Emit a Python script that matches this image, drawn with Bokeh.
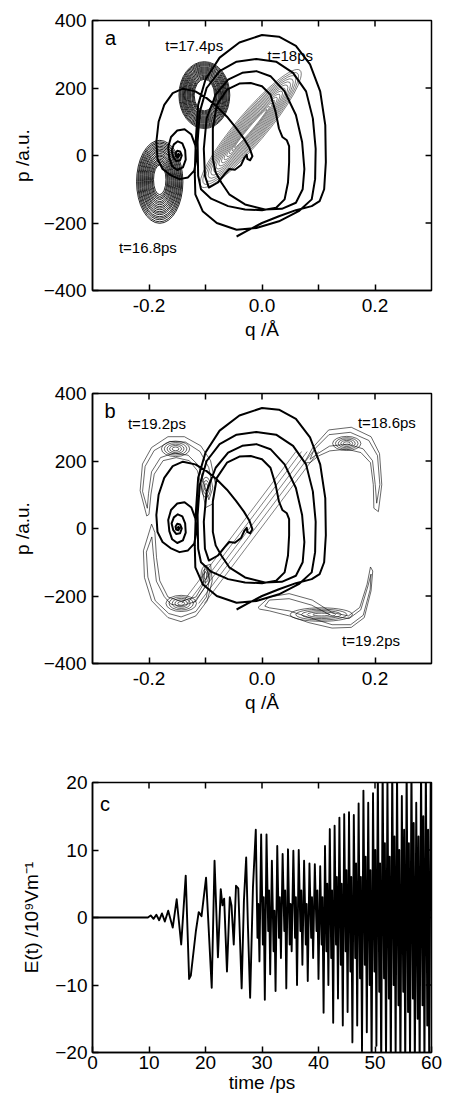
from bokeh.plotting import figure
from bokeh.models import Range1d, FixedTicker, PrintfTickFormatter, Label
from bokeh.layouts import column
from bokeh.embed import file_html
from bokeh.resources import INLINE

FONT = "Liberation Sans"

# ---------------- data ----------------
# classical trajectory (q in Angstrom, p in a.u.)
TRAJ_Q = [-0.150, -0.148, -0.146, -0.148, -0.152, -0.153, -0.150, -0.145, -0.142, -0.145, -0.152, -0.157,
          -0.160, -0.156, -0.149, -0.141, -0.136, -0.135, -0.140, -0.150, -0.159, -0.164,
          -0.166, -0.161, -0.150, -0.137, -0.125, -0.118, -0.116, -0.120, -0.131, -0.146, -0.162, -0.176,
          -0.185, -0.187, -0.183, -0.173, -0.158, -0.140, -0.118, -0.098, -0.080, -0.062, -0.046, -0.032,
          -0.022, -0.017, -0.021, -0.026, -0.027, -0.031, -0.037, -0.048, -0.058, -0.066, -0.078,
          -0.094, -0.101, -0.103, -0.098, -0.082, -0.060, -0.035, -0.010, 0.015, 0.040, 0.060, 0.071,
          0.075, 0.072, 0.060, 0.035, 0.005, -0.030, -0.058, -0.072,
          -0.082, -0.087, -0.087, -0.080, -0.062, -0.040, -0.020, 0.000, 0.015, 0.024, 0.030, 0.036,
          0.044, 0.048, 0.048, 0.046, 0.040, 0.025, 0.000, -0.030, -0.060, -0.090, -0.108,
          -0.113, -0.114, -0.110, -0.098, -0.075, -0.045, -0.010, 0.025, 0.055, 0.078, 0.090, 0.095,
          0.094, 0.088, 0.065, 0.030, -0.010, -0.045, -0.080, -0.105, -0.118,
          -0.119, -0.117, -0.113, -0.100, -0.075, -0.040, 0.000, 0.030, 0.060, 0.085, 0.103, 0.112,
          0.113, 0.110, 0.102, 0.088, 0.060, 0.030, 0.000, -0.025, -0.045]
TRAJ_P = [0, 5, 1, -5, -3, 6, 14, 12, 0, -14, -16, -5,
          15, 33, 42, 36, 15, -12, -35, -43, -32, -8,
          25, 55, 74, 78, 62, 30, -10, -45, -65, -70, -58, -40,
          -10, 40, 100, 150, 185, 198, 190, 170, 145, 115, 82, 50,
          22, -2, -14, -10, 2, -6, -28, -42, -40, -55, -80,
          -95, -60, 20, 110, 180, 225, 245, 250, 235, 190, 120, 40,
          -40, -100, -140, -158, -160, -145, -115, -80,
          -50, -10, 80, 150, 195, 213, 215, 205, 180, 130, 80, 55,
          45, 28, -20, -80, -130, -155, -162, -160, -150, -128, -100,
          -60, 40, 130, 200, 250, 278, 286, 278, 245, 190, 110, 20,
          -70, -130, -165, -195, -215, -220, -200, -165, -115,
          -50, 50, 150, 225, 290, 335, 357, 352, 325, 270, 190, 90,
          -20, -100, -135, -150, -162, -180, -200, -222, -240]

# panel a: wave-packet contour rings (centre q, centre p, width q, height p, angle rad)
# packets at t=16.8 ps and t=17.4 ps
A_RING_Q = [-0.181] * 18 + [-0.102] * 18
A_RING_P = ([-78, -78, -77, -77, -77, -76, -76, -76, -75, -75, -75, -74, -74, -74, -73, -73, -73, -72]
            + [179] * 18)
A_RING_W = ([0.082, 0.078, 0.075, 0.071, 0.068, 0.064, 0.061, 0.057, 0.054, 0.050, 0.047, 0.043, 0.040,
             0.036, 0.033, 0.029, 0.026, 0.022]
            + [0.090, 0.087, 0.084, 0.080, 0.077, 0.074, 0.071, 0.068, 0.065, 0.061, 0.058, 0.055, 0.052,
               0.049, 0.045, 0.042, 0.039, 0.036])
A_RING_H = ([246, 237, 227, 218, 209, 199, 190, 181, 172, 162, 153, 144, 134, 125, 116, 107, 97, 88]
            + [198, 192, 186, 180, 174, 167, 161, 155, 149, 143, 137, 131, 125, 118, 112, 106, 100, 94])
# packet at t=18 ps (tilted)
A3_RING_Q = [-0.020] * 14
A3_RING_P = [80] * 14
A3_RING_W = [0.270, 0.256, 0.242, 0.228, 0.214, 0.200, 0.186, 0.172, 0.158, 0.144, 0.130, 0.116, 0.102, 0.088]
A3_RING_H = [89, 82, 75, 69, 63, 57, 51, 45, 39, 33, 27, 21, 16, 11]
A3_ANGLE = 0.869

# panel b: contours of the four crescent-shaped packets (outer and one nested contour each)
B_CONTOUR_Q = [
    [-0.204, -0.2157, -0.2116, -0.1954, -0.1664, -0.1374, -0.1084, -0.0910, -0.0823, -0.0881, -0.0997,
     -0.1055, -0.1142, -0.1287, -0.1519, -0.1751, -0.1907, -0.1965, -0.200],
    [-0.203, -0.2114, -0.2069, -0.1909, -0.1632, -0.1355, -0.1097, -0.0943, -0.087, -0.094, -0.1023,
     -0.1129, -0.1307, -0.1552, -0.1797, -0.1955, -0.2008],
    [-0.1954, -0.2099, -0.2081, -0.1954, -0.1664, -0.1432, -0.1171, -0.0968, -0.0881, -0.0910,
     -0.1009, -0.1038, -0.1171, -0.1432, -0.1664, -0.1809, -0.1867, -0.1896],
    [-0.195, -0.2047, -0.202, -0.1889, -0.165, -0.1432, -0.1171, -0.0984, -0.093, -0.096, -0.1022,
     -0.1171, -0.1432, -0.1615, -0.1729, -0.187, -0.1919],
    [0.075, 0.090, 0.118, 0.158, 0.193, 0.208, 0.212, 0.206, 0.198, 0.197, 0.192, 0.175, 0.150, 0.120,
     0.100, 0.085],
    [0.085, 0.0923, 0.1185, 0.1562, 0.189, 0.2044, 0.2086, 0.203, 0.2004, 0.1956, 0.179, 0.1518, 0.1195,
     0.0978],
    [-0.007, 0.013, 0.048, 0.089, 0.124, 0.153, 0.173, 0.186, 0.192, 0.196, 0.193, 0.181, 0.158,
     0.124, 0.083, 0.048, 0.013, -0.004],
    [0.005, 0.013, 0.048, 0.0877, 0.124, 0.1541, 0.1748, 0.1876, 0.193, 0.1914, 0.1792, 0.1569, 0.124,
     0.0843, 0.048, 0.013],
]
B_CONTOUR_P = [
    [37, 112, 191, 240, 272, 272, 245, 201, 131, 72, 62, 112, 171, 201, 210, 201, 161, 102, 42],
    [60, 110, 184, 231, 258, 256, 228, 181, 120, 85, 132, 188, 217, 224, 210, 168, 104],
    [13, -66, -145, -214, -264, -276, -259, -214, -155, -106, -111, -165, -203, -216, -203, -155, -86, -12],
    [-25, -70, -144, -214, -252, -262, -246, -203, -150, -125, -176, -216, -230, -224, -202, -156, -82],
    [195, 240, 292, 300, 272, 222, 130, 50, 60, 130, 195, 225, 235, 230, 215, 195],
    [205, 234, 278, 285, 261, 216, 130, 75, 130, 201, 236, 250, 244, 221],
    [-234, -203, -193, -212, -249, -259, -234, -165, -114, -126, -185, -264, -293, -295, -279, -259, -244, -239],
    [-230, -212, -208, -227, -259, -267, -241, -170, -135, -181, -257, -285, -285, -264, -244, -235],
]

# panel b: inner contour lobes (centre q, centre p, width q, height p, angle rad)
B_LOBE_Q = [-0.153] * 5 + [-0.099] * 3 + [-0.143] * 5 + [-0.100] * 3 + [0.150] * 5 + [0.105] * 5
B_LOBE_P = [236] * 5 + [122] * 3 + [-222] * 5 + [-140] * 3 + [252] * 5 + [-255] * 5
B_LOBE_W = ([0.050, 0.040, 0.030, 0.021, 0.012] + [0.016, 0.011, 0.006]
            + [0.054, 0.043, 0.032, 0.022, 0.012] + [0.016, 0.011, 0.006]
            + [0.050, 0.040, 0.030, 0.021, 0.012] + [0.110, 0.090, 0.070, 0.050, 0.030])
B_LOBE_H = ([46, 37, 28, 20, 11] + [60, 40, 22]
            + [48, 39, 30, 21, 11] + [60, 40, 22]
            + [42, 34, 26, 18, 10] + [40, 32, 24, 16, 8])
B_LOBE_ANGLE = [0.0] * 26 + [-0.2] * 5

# panel b: interference fringes (start / end of each stripe)
B_FRINGE_Q0 = [-0.142, -0.132, -0.122, -0.112, -0.102]
B_FRINGE_P0 = [-222, -222, -222, -222, -222]
B_FRINGE_Q1 = [0.060, 0.070, 0.080, 0.090, 0.100]
B_FRINGE_P1 = [228, 228, 228, 228, 228]

# panel c: field E(t), extrema
E_T = [0.0, 9.8, 10.3, 10.8, 11.3, 11.8, 12.3, 12.8, 13.4, 14.2, 14.9, 15.7, 16.5, 17.1, 17.4, 18.3, 18.8,
       19.3, 20.1, 21.1, 21.6, 22.2, 22.7, 23.0, 23.3, 23.8, 24.3, 24.6, 25.0, 25.4, 25.8, 26.4, 26.8,
       27.2, 27.5, 27.9, 28.4,
       28.9, 29.2, 29.35, 29.55, 29.85, 30.15, 30.3, 30.5, 30.8, 31.1, 31.25, 31.45, 31.75, 32.05, 32.2, 32.4,
       32.7, 33.0, 33.15, 33.35, 33.65, 33.95, 34.1, 34.3, 34.6, 34.9, 35.05, 35.25, 35.55, 35.85, 36.0, 36.2,
       36.5, 36.8, 36.95, 37.15, 37.45, 37.75, 37.9, 38.1, 38.4, 38.7, 38.85, 39.05, 39.35, 39.65, 39.8, 40.0,
       40.3, 40.55, 40.7, 40.9, 41.15, 41.4, 41.55, 41.75, 42.0, 42.25, 42.4, 42.6, 42.85, 43.1, 43.25, 43.45,
       43.7, 43.95, 44.1, 44.3, 44.55, 44.8, 44.95, 45.15, 45.4, 45.65, 45.8, 46.0, 46.25, 46.5, 46.65, 46.85,
       47.1, 47.35, 47.5, 47.7, 47.95, 48.2, 48.35, 48.55, 48.8, 49.05, 49.2, 49.4, 49.65, 49.9, 50.05, 50.25,
       50.5, 50.75, 50.9, 51.1, 51.35, 51.6, 51.75, 51.95, 52.2, 52.45, 52.6, 52.8, 53.05, 53.3, 53.45, 53.65,
       53.9, 54.15, 54.3, 54.5, 54.75, 55.0, 55.15, 55.35, 55.6, 55.85, 56.0, 56.2, 56.45, 56.7, 56.85, 57.05,
       57.3, 57.55, 57.7, 57.9, 58.15, 58.4, 58.55, 58.75, 59.0, 59.25, 59.4, 59.6, 59.85, 60.0]
E_V = [0.0, 0.0, 0.3, -0.2, 0.4, -0.4, 0.6, -0.6, 1.0, -1.5, 2.7, -4.0, 6.2, -9.1, -8.6, -2.0, 0.8,
       0.2, 5.9, -10.4, 8.4, -5.9, 4.2, 1.8, 2.8, -8.0, 3.0, 1.8, -4.0, 4.7, 4.3, -10.5, 2.5,
       8.9, -1.0, -11.9, 4.5,
       13.0, -3.0, 2.0, -6.5, 12.3, -4.0, 3.0, -12.2, 12.3, -2.0, 4.0, -8.4, 8.4, -5.0, 1.0, -10.9,
       10.6, -3.0, 3.0, -6.0, 9.4, -2.0, 4.0, -10.5, 10.1, -4.0, 2.0, -5.0, 9.9, -3.0, 3.0, -10.0,
       10.0, -2.0, 4.0, -7.0, 8.4, -4.0, 2.0, -9.4, 8.0, -3.0, 3.0, -6.0, 7.9, -2.0, 4.0, -9.1,
       7.6, -4.0, 3.0, -14.1, 10.6, -5.0, 5.0, -10.0, 13.1, -6.0, 4.0, -15.6, 13.6, -4.0, 6.0, -12.0,
       14.8, -7.0, 5.0, -16.0, 15.3, -5.0, 7.0, -14.0, 15.6, -8.0, 6.0, -18.5, 15.2, -6.0, 8.0, -16.0,
       16.9, -9.0, 6.0, -19.8, 18.8, -7.0, 9.0, -17.0, 17.0, -10.0, 7.0, -22.0, 18.4, -8.0, 10.0, -19.0,
       22.0, -11.0, 8.0, -23.0, 23.0, -9.0, 11.0, -22.0, 21.0, -12.0, 9.0, -23.0, 23.0, -10.0, 12.0, -21.0,
       22.0, -13.0, 10.0, -23.0, 18.0, -11.0, 13.0, -23.0, 23.0, -14.0, 11.0, -22.0, 23.0, -12.0, 14.0, -23.0,
       17.0, -15.0, 12.0, -23.0, 23.0, -13.0, 15.0, -23.0, 23.0, -16.0, 13.0, -23.0, 20.0, 6.0]

Q_TICKS = [-0.2, 0.0, 0.2]
Q_MINOR = [-0.1, 0.1]
P_TICKS = [-400, -200, 0, 200, 400]
T_TICKS = [0, 10, 20, 30, 40, 50, 60]
E_TICKS = [-20, -10, 0, 10, 20]

# annotation texts and their places (data units)
A_NOTES = [("a", -0.268, 347), ("t=17.4ps", -0.120, 326), ("t=18ps", 0.050, 296), ("t=16.8ps", -0.202, -273)]
B_NOTES = [("b", -0.269, 349), ("t=19.2ps", -0.186, 310), ("t=18.6ps", 0.221, 313), ("t=19.2ps", 0.193, -333)]
C_NOTES = [("c", 2.2, 16.8)]

TICK_PX = 6


def mirror_ticks(fig, xr, yr, fw, fh, xt, yt):
    # tick marks on the top and right frame edges (pointing inward)
    ly = (yr[1] - yr[0]) * TICK_PX / fh
    lx = (xr[1] - xr[0]) * TICK_PX / fw
    fig.segment(x0=xt, y0=[yr[1]] * len(xt), x1=xt, y1=[yr[1] - ly] * len(xt),
                line_color="black", line_width=1.5)
    fig.segment(x0=[xr[1]] * len(yt), y0=yt, x1=[xr[1] - lx] * len(yt), y1=yt,
                line_color="black", line_width=1.5)


def style(fig, xticks, xminor, yticks, xfmt, xlabel, ylabel, xstand, ystand, xlstand, ylstand):
    xa = fig.xaxis[0]
    ya = fig.yaxis[0]
    xa.ticker = FixedTicker(ticks=xticks, minor_ticks=xminor)
    ya.ticker = FixedTicker(ticks=yticks, minor_ticks=[])
    if xfmt:
        xa.formatter = PrintfTickFormatter(format=xfmt)
    xa.axis_label = xlabel
    ya.axis_label = ylabel
    xa.major_label_standoff = xstand
    ya.major_label_standoff = ystand
    xa.axis_label_standoff = xlstand
    ya.axis_label_standoff = ylstand
    for ax in (xa, ya):
        ax.major_tick_in = TICK_PX
        ax.major_tick_out = 0
        ax.minor_tick_in = TICK_PX
        ax.minor_tick_out = 0
        ax.major_tick_line_width = 1.5
        ax.minor_tick_line_width = 1.5
        ax.major_tick_line_color = "black"
        ax.minor_tick_line_color = "black"
        ax.axis_line_width = 1.5
        ax.axis_line_color = "black"
        ax.axis_label_text_font = FONT
        ax.axis_label_text_font_size = "19px"
        ax.axis_label_text_font_style = "normal"
        ax.axis_label_text_color = "black"
        ax.major_label_text_font = FONT
        ax.major_label_text_font_size = "19px"
        ax.major_label_text_color = "black"
    fig.xgrid.grid_line_color = None
    fig.ygrid.grid_line_color = None
    fig.outline_line_color = "black"
    fig.outline_line_width = 1.5
    fig.outline_line_alpha = 1.0


def notes(fig, items, size):
    for txt, x, y in items:
        fig.add_layout(Label(x=x, y=y, text=txt, text_font=FONT, text_font_size=size,
                             text_align="center", text_baseline="middle", text_color="black"))


def phase_fig(height, top, bottom):
    return figure(width=459, height=height, output_backend="svg", toolbar_location=None,
                  x_range=Range1d(-0.3, 0.3), y_range=Range1d(-400, 400),
                  min_border_left=88, min_border_right=28, min_border_top=top, min_border_bottom=bottom,
                  background_fill_color="white", border_fill_color="white")


# ---------------- panel a ----------------
fa = phase_fig(350, 20, 60)
fa.ellipse(x=A_RING_Q, y=A_RING_P, width=A_RING_W, height=A_RING_H, angle=0.0,
           fill_color=None, line_color="black", line_width=0.85)
fa.ellipse(x=A3_RING_Q, y=A3_RING_P, width=A3_RING_W, height=A3_RING_H, angle=A3_ANGLE,
           fill_color=None, line_color="black", line_width=0.5)
fa.line(TRAJ_Q, TRAJ_P, line_color="black", line_width=2.0, line_join="round")
style(fa, Q_TICKS, Q_MINOR, P_TICKS, "%.1f", "q /Å", "p /a.u.", 8, 6, 4, 8)
mirror_ticks(fa, (-0.3, 0.3), (-400, 400), 343, 270, Q_TICKS + Q_MINOR, P_TICKS[1:-1])
notes(fa, A_NOTES[:1], "20px")
notes(fa, A_NOTES[1:], "15px")

# ---------------- panel b ----------------
fb = phase_fig(380, 43, 67)
fb.patches(B_CONTOUR_Q, B_CONTOUR_P, fill_color=None, line_color="black", line_width=0.6)
fb.ellipse(x=B_LOBE_Q, y=B_LOBE_P, width=B_LOBE_W, height=B_LOBE_H, angle=B_LOBE_ANGLE,
           fill_color=None, line_color="black", line_width=0.6)
fb.segment(x0=B_FRINGE_Q0, y0=B_FRINGE_P0, x1=B_FRINGE_Q1, y1=B_FRINGE_P1,
           line_color="black", line_width=0.5)
fb.line(TRAJ_Q, TRAJ_P, line_color="black", line_width=2.0, line_join="round")
style(fb, Q_TICKS, Q_MINOR, P_TICKS, "%.1f", "q /Å", "p /a.u.", 8, 6, 4, 8)
mirror_ticks(fb, (-0.3, 0.3), (-400, 400), 343, 270, Q_TICKS + Q_MINOR, P_TICKS[1:-1])
notes(fb, B_NOTES[:1], "20px")
notes(fb, B_NOTES[1:], "15px")

# ---------------- panel c ----------------
fc = figure(width=459, height=371, output_backend="svg", toolbar_location=None,
            x_range=Range1d(0, 60), y_range=Range1d(-20, 20),
            min_border_left=92, min_border_right=11, min_border_top=52, min_border_bottom=49,
            background_fill_color="white", border_fill_color="white")
fc.line(E_T, E_V, line_color="black", line_width=1.9, line_join="round")
style(fc, T_TICKS, [], E_TICKS, None, "time /ps", "E(t) /10⁹Vm⁻¹", 3, 5, 0, 10)
mirror_ticks(fc, (0, 60), (-20, 20), 356, 270, T_TICKS[1:-1], E_TICKS[1:-1])
notes(fc, C_NOTES, "20px")

layout = column(fa, fb, fc, spacing=0)
open("out.html", "w").write(file_html(layout, INLINE))
